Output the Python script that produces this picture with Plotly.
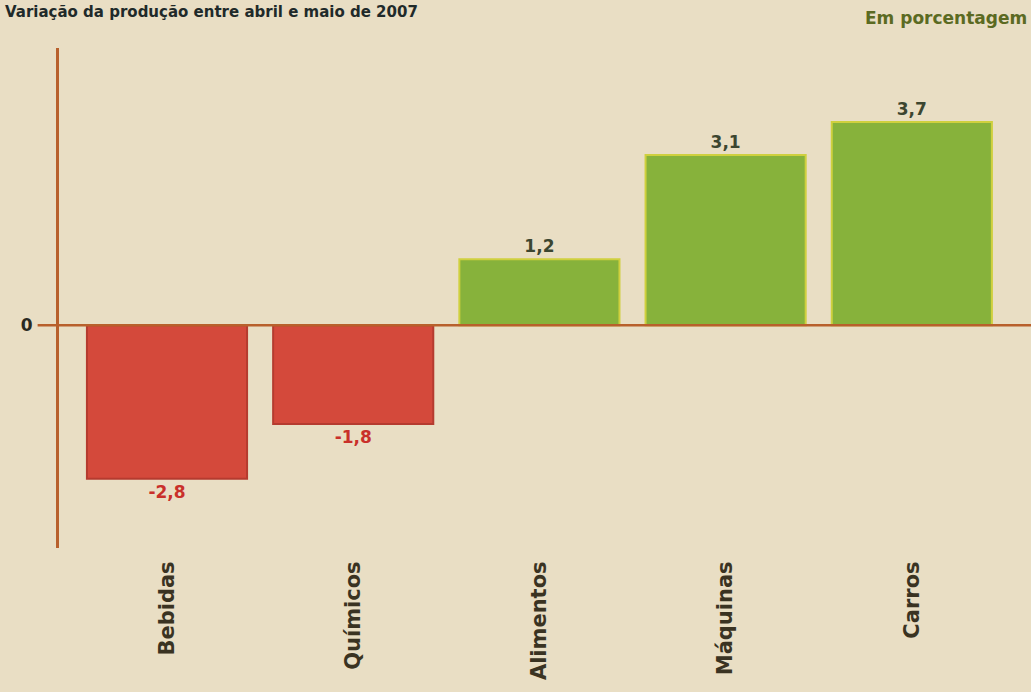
import plotly.graph_objects as go

categories = ["Bebidas", "Químicos", "Alimentos", "Máquinas", "Carros"]
values = [-2.8, -1.8, 1.2, 3.1, 3.7]
title_text = "Variação da produção entre abril e maio de 2007"
unit_text = "Em porcentagem"

pos_fill, neg_fill = "#87b23b", "#d4493b"
pos_line, neg_line = "#cfd03e", "#b53b2f"
pos_txt, neg_txt = "#3c4630", "#c9302a"

fills = [pos_fill if v >= 0 else neg_fill for v in values]
lines = [pos_line if v >= 0 else neg_line for v in values]
tcols = [pos_txt if v >= 0 else neg_txt for v in values]

bg = "#e9dec4"
axis_col = "#b8602c"

fig = go.Figure(go.Bar(
    x=categories, y=values, width=0.86,
    marker=dict(color=fills, line=dict(color=lines, width=2)),
    texttemplate="%{y:.1f}", textposition="outside",
    textfont=dict(family="DejaVu Sans", size=17, color=tcols, weight="bold"),
    cliponaxis=False,
))

fig.add_shape(type="line", xref="paper", yref="y", x0=-0.022, x1=1.0, y0=0, y1=0,
              line=dict(color=axis_col, width=2.5), layer="above")

fig.add_annotation(text=unit_text, xref="paper", yref="paper", x=0.998, y=1.06,
                   xanchor="right", yanchor="middle", showarrow=False,
                   font=dict(family="DejaVu Sans", size=17, color="#5b6a22", weight="bold"))
fig.add_annotation(text=title_text, xref="paper", yref="paper", x=-0.058, y=1.094,
                   xanchor="left", yanchor="top", showarrow=False,
                   font=dict(family="DejaVu Sans", size=15, color="#1f2a2a", weight="bold"))

fig.update_layout(
    width=1031, height=692,
    margin=dict(l=59, r=0, t=48, b=144),
    paper_bgcolor=bg, plot_bgcolor=bg,
    separators=",.",
    showlegend=False,
    xaxis=dict(range=[-0.58, 4.64], showgrid=False, zeroline=False, showline=False,
               tickangle=-90, ticks="outside", ticklen=4, tickcolor="rgba(0,0,0,0)",
               tickfont=dict(family="DejaVu Sans", size=21, color="#3a3322", weight="bold")),
    yaxis=dict(range=[-4.06, 5.05], showgrid=False, zeroline=False,
               showline=True, linecolor=axis_col, linewidth=3,
               tickvals=[0], ticktext=["0"], ticks="", ticklabelstandoff=20,
               tickfont=dict(family="DejaVu Sans", size=17, color="#2a2a22", weight="bold")),
)

fig.write_html("out.html", config={"displayModeBar": False},
               post_script="document.body.style.margin='0';document.body.style.overflow='hidden';")
